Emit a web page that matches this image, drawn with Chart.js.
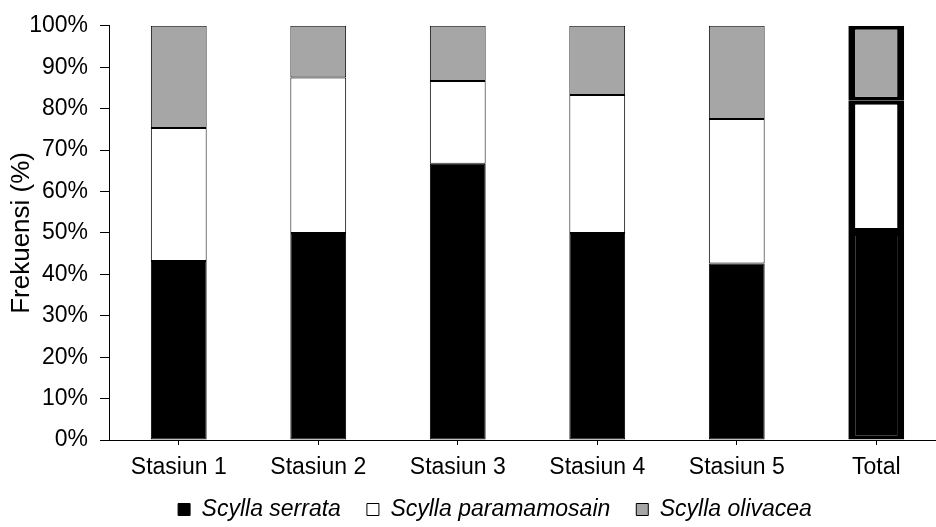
<!DOCTYPE html>
<html>
<head>
<meta charset="utf-8">
<script src="https://cdn.jsdelivr.net/npm/chart.js@4"></script>
<style>
  body { margin: 0; background: #fff; overflow: hidden; }
</style>
</head>
<body>
<canvas id="myChart" width="990" height="527"></canvas>
<script>
var categories = ["Stasiun 1", "Stasiun 2", "Stasiun 3", "Stasiun 4", "Stasiun 5", "Total"];
var serrata = [43.2, 50, 66.7, 50, 42.6, 50.2];
var paramamosain = [32.1, 37.5, 20, 33.3, 34.9, 31.7];
var olivacea = [24.7, 12.5, 13.3, 16.7, 22.5, 18.1];
var yTicks = [0, 10, 20, 30, 40, 50, 60, 70, 80, 90, 100];

Chart.defaults.font.family = "'Liberation Sans', Arial, sans-serif";
Chart.defaults.color = "#000";

// the Total bar gets the heavy outline
function outline(ctx) {
  if (ctx.dataIndex === 5) return { top: 4, bottom: 4, left: 7, right: 7 };
  return 1;
}

// fixed legend height, legend nudged right/up like the original
var legendFit = {
  id: "legendFit",
  beforeLayout: function (chart) {
    var legend = chart.legend;
    if (legend && !legend.fitPatched) {
      var fit = legend.fit;
      legend.fit = function () {
        fit.call(this);
        this.height = 43;
      };
      legend.fitPatched = true;
    }
  },
  afterLayout: function (chart) {
    var lg = chart.legend;
    lg.left += 22;
    lg.right += 22;
    lg.top -= 12; // bottom stays put, the legend clips to its box
  }
};

var ctx = document.getElementById("myChart").getContext("2d");
var chart = new Chart(ctx, {
  type: "bar",
  data: {
    labels: categories,
    datasets: [
      { label: "Scylla serrata", data: serrata, backgroundColor: "#000", borderColor: "#000", borderWidth: outline, borderSkipped: false },
      { label: "Scylla paramamosain", data: paramamosain, backgroundColor: "#fff", borderColor: "#000", borderWidth: outline, borderSkipped: false },
      { label: "Scylla olivacea", data: olivacea, backgroundColor: "#a6a6a6", borderColor: "#000", borderWidth: outline, borderSkipped: false }
    ]
  },
  plugins: [legendFit],
  options: {
    responsive: false,
    animation: false,
    devicePixelRatio: 1,
    layout: { padding: { top: 24, right: 44, bottom: 0, left: 0 } },
    datasets: { bar: { categoryPercentage: 1, barPercentage: 0.4 } },
    plugins: {
      tooltip: { enabled: false },
      legend: {
        position: "bottom",
        labels: {
          boxWidth: 12,
          boxHeight: 12,
          padding: 26,
          font: { size: 23, style: "italic" }
        }
      }
    },
    scales: {
      x: {
        stacked: true,
        afterFit: function (scale) { scale.height = 44; },
        grid: { drawOnChartArea: false, offset: false, color: "#000", tickLength: 5 },
        border: { color: "#000", width: 1 },
        ticks: { font: { size: 23 }, padding: 9, maxRotation: 0 }
      },
      y: {
        stacked: true,
        min: 0,
        max: 100,
        afterFit: function (scale) { scale.width = 109; },
        afterBuildTicks: function (scale) {
          scale.ticks = yTicks.map(function (v) { return { value: v }; });
        },
        grid: { drawOnChartArea: false, color: "#000", tickLength: 9 },
        border: { color: "#000", width: 1 },
        ticks: {
          font: { size: 23 },
          padding: 12,
          callback: function (v) { return v + "%"; }
        },
        title: {
          display: true,
          text: "Frekuensi (%)",
          font: { size: 26 },
          padding: { top: 6, bottom: 0 }
        }
      }
    }
  }
});
</script>
</body>
</html>
